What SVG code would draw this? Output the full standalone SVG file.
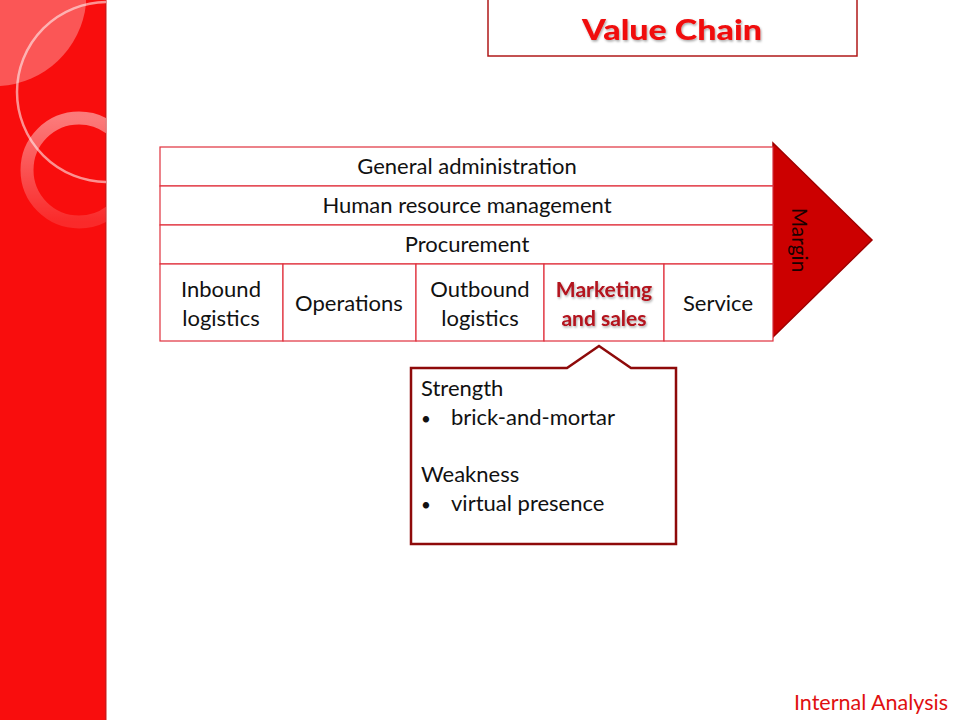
<svg xmlns="http://www.w3.org/2000/svg" width="960" height="720" viewBox="0 0 960 720">
<defs>
<style>
.t{font-family:Lato,"Open Sans","Liberation Sans",sans-serif;font-size:22px;fill:#111;}
.c{text-anchor:middle;}
.b{font-size:17px;}
.cell{fill:#fff;stroke:#e0303c;stroke-width:1.2;}
</style>
<clipPath id="panel"><rect x="0" y="0" width="106" height="720"/></clipPath>
<linearGradient id="ringg" x1="0" y1="0" x2="0" y2="1">
<stop offset="0" stop-color="#fff" stop-opacity="0.45"/>
<stop offset="1" stop-color="#fff" stop-opacity="0.12"/>
</linearGradient>
<filter id="sh" x="-10%" y="-20%" width="130%" height="150%">
<feDropShadow dx="1" dy="1.5" stdDeviation="1" flood-color="#000" flood-opacity="0.35"/>
</filter>
</defs>
<rect width="960" height="720" fill="#fff"/>
<g id="panel-bg">
<rect x="0" y="0" width="106" height="720" fill="#f90d0d"/>
<rect x="105" y="0" width="1.5" height="720" fill="#d01818"/>
<g clip-path="url(#panel)">
<path d="M0,0 H86 V4 A92 92 0 0 1 0 86 Z" fill="#fff" fill-opacity="0.3"/>
<circle cx="107" cy="92" r="90" fill="none" stroke="#fff" stroke-opacity="0.55" stroke-width="2.5"/>
<circle cx="79" cy="170" r="52" fill="none" stroke="url(#ringg)" stroke-width="13"/>
</g>
</g>
<g id="title">
<rect x="488" y="-2" width="369" height="58" fill="#fff" stroke="#b01818" stroke-width="1.5"/>
<text x="582" y="40" textLength="180" lengthAdjust="spacingAndGlyphs" filter="url(#sh)" style="font-family:Lato,'Liberation Sans',sans-serif;font-weight:900;font-size:29px;fill:#f00a0a;">Value Chain</text>
</g>
<g id="connectors"></g>
<g id="margin">
<path d="M773,143 L872,240 L773,337 Z" fill="#cc0000" stroke="#a00000" stroke-width="1.5"/>
<text transform="translate(792,240) rotate(90)" class="t c" style="font-size:21px;fill:#1a0000;">Margin</text>
</g>
<g id="general-administration">
<rect x="160" y="147" width="613" height="39" class="cell"/>
<text x="467" y="174" class="t c">General administration</text>
</g>
<g id="human-resource-management">
<rect x="160" y="186" width="613" height="39" class="cell"/>
<text x="467" y="213" class="t c">Human resource management</text>
</g>
<g id="procurement">
<rect x="160" y="225" width="613" height="39" class="cell"/>
<text x="467" y="252" class="t c">Procurement</text>
</g>
<g id="inbound-logistics">
<rect x="160" y="264" width="123" height="77" class="cell"/>
<text x="221" y="297" class="t c">Inbound</text>
<text x="221" y="326" class="t c">logistics</text>
</g>
<g id="operations">
<rect x="283" y="264" width="133" height="77" class="cell"/>
<text x="349" y="311" class="t c">Operations</text>
</g>
<g id="outbound-logistics">
<rect x="416" y="264" width="128" height="77" class="cell"/>
<text x="480" y="297" class="t c">Outbound</text>
<text x="480" y="326" class="t c">logistics</text>
</g>
<g id="marketing-and-sales">
<rect x="544" y="264" width="120" height="77" class="cell"/>
<g filter="url(#sh)">
<text x="604" y="297" class="t c" style="font-weight:bold;font-size:21px;fill:#b3121e;">Marketing</text>
<text x="604" y="326" class="t c" style="font-weight:bold;font-size:21px;fill:#b3121e;">and sales</text>
</g>
</g>
<g id="service">
<rect x="664" y="264" width="109" height="77" class="cell"/>
<text x="718" y="311" class="t c">Service</text>
</g>
<g id="callout">
<path d="M411,368 H567 L599,346 L631,368 H676 V544 H411 Z" fill="#fff" stroke="#8e0a0a" stroke-width="2.5" stroke-linejoin="miter"/>
<text x="421" y="396" class="t">Strength</text>
<text x="421" y="425" class="t b">•</text>
<text x="451" y="425" class="t">brick-and-mortar</text>
<text x="421" y="482" class="t">Weakness</text>
<text x="421" y="511" class="t b">•</text>
<text x="451" y="511" class="t">virtual presence</text>
</g>
<g id="footer">
<text x="948" y="710" class="t" style="text-anchor:end;font-size:21.5px;fill:#e01010;">Internal Analysis</text>
</g>
</svg>
